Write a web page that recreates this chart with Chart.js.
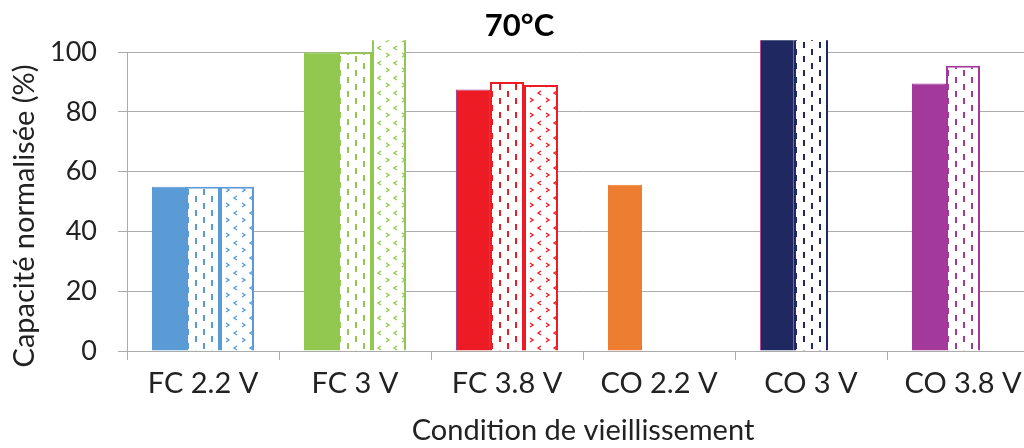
<!DOCTYPE html>
<html>
<head>
<meta charset="utf-8">
<script src="https://cdn.jsdelivr.net/npm/chart.js@4/dist/chart.umd.min.js"></script>
<style>
  html, body { margin: 0; padding: 0; background: #fff; overflow: hidden; }
  #wrap { width: 1039px; height: 448px; position: relative; }
</style>
</head>
<body>
<div id="wrap"><canvas id="c"></canvas></div>
<script>
const categories = ['FC 2.2 V', 'FC 3 V', 'FC 3.8 V', 'CO 2.2 V', 'CO 3 V', 'CO 3.8 V'];
const solidValues  = [55, 100, 87.5, 55.6, 106, 89.5];
const dashedValues = [55, 100, 90, null, 106, 95.5];
const dottedValues = [55, 106, 89, null, null, null];
const yTickValues = [0, 20, 40, 60, 80, 100];
const titleText = '70°C';
const yTitleText = 'Capacité normalisée (%)';
const xTitleText = 'Condition de vieillissement';

const colors = ['#5B9BD5', '#92C850', '#ED1C24', '#ED7D31', '#1F2860', '#A3399A'];
const solidBorders = ['#5B9BD5', '#92C850', '#A0449A', '#ED7D31', '#B04AA0', '#A3399A'];
const FONT = 'Lato, "Open Sans", sans-serif';
const TXT = '#222222';
const GRID = '#ABABAB';
const CLIP = { left: 0, top: 12, right: 0, bottom: 0 };

function dashPattern(color) {
  const c = document.createElement('canvas');
  c.width = 16; c.height = 14;
  const g = c.getContext('2d');
  g.fillStyle = '#fff'; g.fillRect(0, 0, 16, 14);
  g.fillStyle = color;
  g.fillRect(3, 0, 2, 6);
  g.fillRect(11, 7, 2, 6);
  return g.createPattern(c, 'repeat');
}
function chevronPattern(color) {
  const c = document.createElement('canvas');
  c.width = 16; c.height = 15;
  const g = c.getContext('2d');
  g.fillStyle = '#fff'; g.fillRect(0, 0, 16, 15);
  g.strokeStyle = color; g.lineWidth = 1.4;
  g.beginPath(); g.moveTo(2, 8); g.lineTo(5, 10); g.lineTo(2, 12); g.stroke();
  g.beginPath(); g.moveTo(13, 1); g.lineTo(10, 3); g.lineTo(13, 5); g.stroke();
  return g.createPattern(c, 'repeat');
}

const yTitlePlugin = {
  id: 'yTitle',
  afterDraw(chart) {
    const ctx = chart.ctx;
    ctx.save();
    ctx.translate(25, 216);
    ctx.rotate(-Math.PI / 2);
    ctx.font = '29px ' + FONT;
    ctx.fillStyle = TXT;
    ctx.textAlign = 'center';
    ctx.textBaseline = 'middle';
    ctx.fillText(yTitleText, 0, 0);
    ctx.restore();
  }
};

new Chart(document.getElementById('c'), {
  type: 'bar',
  data: {
    labels: categories,
    datasets: [
      { label: 'solid', data: solidValues, backgroundColor: colors, borderColor: solidBorders, borderWidth: 1, clip: CLIP },
      { label: 'dashed', data: dashedValues, backgroundColor: colors.map(dashPattern), borderColor: colors, borderWidth: 2, clip: CLIP },
      { label: 'dotted', data: dottedValues, backgroundColor: colors.map(chevronPattern), borderColor: colors, borderWidth: 2, clip: CLIP }
    ]
  },
  options: {
    responsive: true,
    maintainAspectRatio: false,
    animation: false,
    layout: { padding: 0 },
    datasets: { bar: { barPercentage: 1, categoryPercentage: 0.671 } },
    plugins: {
      legend: { display: false },
      tooltip: { enabled: false },
      title: {
        display: true, text: titleText, color: '#000',
        font: { family: FONT, size: 31, weight: 'bold', lineHeight: 1.2 },
        padding: { top: 7, bottom: 8 }
      }
    },
    scales: {
      x: {
        grid: { display: true, drawOnChartArea: false, color: GRID, tickLength: 9, offset: true },
        border: { color: GRID, width: 1 },
        ticks: { color: TXT, font: { family: FONT, size: 29 }, padding: 6, maxRotation: 0, autoSkip: false },
        title: { display: true, text: xTitleText, color: TXT, font: { family: FONT, size: 29, lineHeight: 1.2 }, padding: { top: 0, bottom: 0 } },
        afterFit(scale) { scale.height = 97; }
      },
      y: {
        min: 0, max: 100,
        afterBuildTicks(scale) { scale.ticks = yTickValues.map(v => ({ value: v })); },
        grid: { color: GRID, tickLength: 9 },
        border: { color: GRID, width: 1 },
        ticks: { color: TXT, font: { family: FONT, size: 27 }, padding: 21 },
        afterFit(scale) { scale.width = 127; }
      }
    }
  },
  plugins: [yTitlePlugin]
});
</script>
</body>
</html>
